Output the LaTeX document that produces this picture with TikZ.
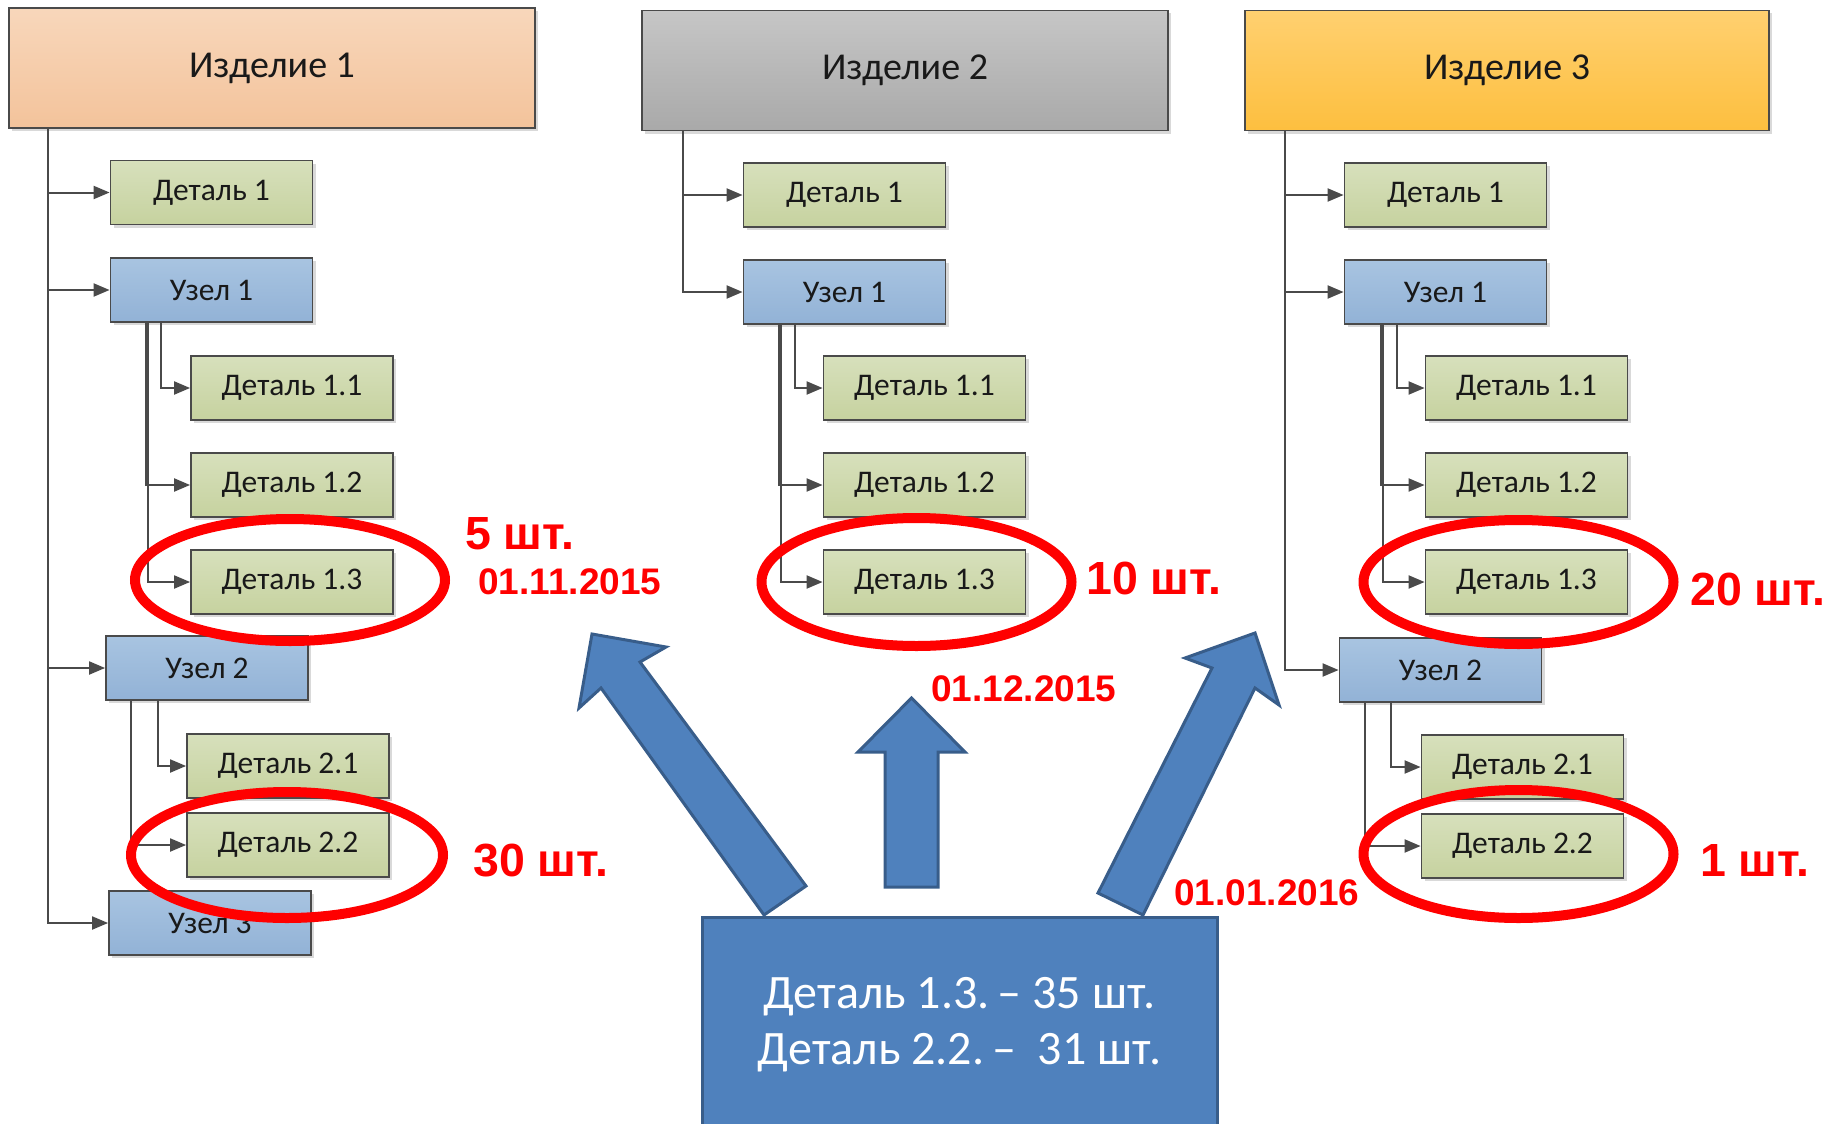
\documentclass[tikz,border=0pt]{standalone}
\usepackage{fontspec}
\setmainfont{Carlito}
\newfontfamily\arialbf{Liberation Sans}
\usetikzlibrary{arrows.meta,shadows}

\definecolor{partA}{HTML}{D7E0BC}
\definecolor{partB}{HTML}{C6D29F}
\definecolor{unitA}{HTML}{A8C4E1}
\definecolor{unitB}{HTML}{92B2D6}
\definecolor{prodA1}{HTML}{F8D7BB}
\definecolor{prodB1}{HTML}{F3C39B}
\definecolor{prodA2}{HTML}{C6C6C6}
\definecolor{prodB2}{HTML}{A9A9A9}
\definecolor{prodA3}{HTML}{FFD070}
\definecolor{prodB3}{HTML}{FDBF3F}
\definecolor{edge}{HTML}{4A4A4A}
\definecolor{blockfill}{HTML}{4F81BD}
\definecolor{blockedge}{HTML}{385D8A}

\begin{document}
\begin{tikzpicture}[x=1pt,y=-1pt,
    anybox/.style={draw=edge,line width=1.8pt,inner sep=0pt,minimum height=64pt,
      drop shadow={shadow xshift=3pt,shadow yshift=-3pt,fill=black,opacity=0.15},
      text=black!90,font=\fontsize{31.5}{36}\selectfont},
    partbox/.style={anybox,minimum width=202pt,top color=partA,bottom color=partB},
    unitbox/.style={anybox,minimum width=202pt,top color=unitA,bottom color=unitB},
    prodbox/.style={anybox,minimum width=526pt,minimum height=120pt,font=\fontsize{38}{42}\selectfont},
    conn/.style={draw=edge,line width=2pt,-{Triangle[length=16pt,width=13pt]}},
    ring/.style={draw=red,line width=10pt},
    qty/.style={text=red,anchor=base west,inner sep=0pt,font=\arialbf\bfseries\fontsize{46.5}{50}\selectfont},
    datetxt/.style={qty,font=\arialbf\bfseries\fontsize{37}{40}\selectfont},
    blockarrow/.style={fill=blockfill,draw=blockedge,line width=3pt,line join=miter}]
  \useasboundingbox (0,0) rectangle (1831,1124);

  % product 1
  \node[prodbox,top color=prodA1,bottom color=prodB1] (Ia) at (272,68) {Изделие 1};
  \node[partbox] (Da1) at (211.5,192.5) {Деталь 1};
  \node[unitbox] (Ua1) at (211.5,290) {Узел 1};
  \node[partbox] (Da11) at (292,388) {Деталь 1.1};
  \node[partbox] (Da12) at (292,485) {Деталь 1.2};
  \node[partbox] (Da13) at (292,582) {Деталь 1.3};
  \node[unitbox] (Ua2) at (207,668) {Узел 2};
  \node[partbox] (Da21) at (288,766) {Деталь 2.1};
  \node[partbox] (Da22) at (288,845) {Деталь 2.2};
  \node[unitbox] (Ua3) at (210,923) {Узел 3};
  \draw[conn] ([xshift=40pt]Ia.south west) |- (Da1);
  \draw[conn] ([xshift=40pt]Ia.south west) |- (Ua1);
  \draw[conn] ([xshift=40pt]Ia.south west) |- (Ua2);
  \draw[conn] ([xshift=40pt]Ia.south west) |- (Ua3);
  \draw[conn] ([xshift=51pt]Ua1.south west) |- (Da11);
  \draw[conn] ([xshift=36pt]Ua1.south west) |- (Da12);
  \draw[conn] ([xshift=38pt]Ua1.south west) |- (Da13);
  \draw[conn] ([xshift=53pt]Ua2.south west) |- (Da21);
  \draw[conn] ([xshift=26pt]Ua2.south west) |- (Da22);

  % product 2
  \node[prodbox,top color=prodA2,bottom color=prodB2] (Ib) at (905,70.5) {Изделие 2};
  \node[partbox] (Db1) at (844.5,195) {Деталь 1};
  \node[unitbox] (Ub1) at (844.5,292) {Узел 1};
  \node[partbox] (Db11) at (924.5,388) {Деталь 1.1};
  \node[partbox] (Db12) at (924.5,485) {Деталь 1.2};
  \node[partbox] (Db13) at (924.5,582) {Деталь 1.3};
  \draw[conn] ([xshift=42pt]Ib.south west) |- (Db1);
  \draw[conn] ([xshift=42pt]Ib.south west) |- (Ub1);
  \draw[conn] ([xshift=52pt]Ub1.south west) |- (Db11);
  \draw[conn] ([xshift=36pt]Ub1.south west) |- (Db12);
  \draw[conn] ([xshift=38pt]Ub1.south west) |- (Db13);

  % product 3
  \node[prodbox,top color=prodA3,bottom color=prodB3,minimum width=524pt] (Ic) at (1507,70.5) {Изделие 3};
  \node[partbox] (Dc1) at (1445.5,195) {Деталь 1};
  \node[unitbox] (Uc1) at (1445.5,292) {Узел 1};
  \node[partbox] (Dc11) at (1526.5,388) {Деталь 1.1};
  \node[partbox] (Dc12) at (1526.5,485) {Деталь 1.2};
  \node[partbox] (Dc13) at (1526.5,582) {Деталь 1.3};
  \node[unitbox] (Uc2) at (1440.5,670) {Узел 2};
  \node[partbox] (Dc21) at (1522.5,767) {Деталь 2.1};
  \node[partbox] (Dc22) at (1522.5,846) {Деталь 2.2};
  \draw[conn] ([xshift=41pt]Ic.south west) |- (Dc1);
  \draw[conn] ([xshift=41pt]Ic.south west) |- (Uc1);
  \draw[conn] ([xshift=41pt]Ic.south west) |- (Uc2);
  \draw[conn] ([xshift=53pt]Uc1.south west) |- (Dc11);
  \draw[conn] ([xshift=37pt]Uc1.south west) |- (Dc12);
  \draw[conn] ([xshift=39pt]Uc1.south west) |- (Dc13);
  \draw[conn] ([xshift=52pt]Uc2.south west) |- (Dc21);
  \draw[conn] ([xshift=26pt]Uc2.south west) |- (Dc22);

  % block arrows and the total
  \draw[blockarrow] (592,634) -- (666,647) -- (640,662) -- (806,886) -- (764,915) -- (601,688) -- (579,708) -- cycle;
  \draw[blockarrow] (911.5,698) -- (965,752) -- (938,752) -- (938,887) -- (885,887) -- (885,752) -- (858,752) -- cycle;
  \draw[blockarrow] (1255,633) -- (1279,705) -- (1255,688) -- (1143,915) -- (1098,893) -- (1212,668) -- (1185,658) -- cycle;
  \node[draw=blockedge,fill=blockfill,line width=3pt,minimum width=515pt,minimum height=216pt,inner sep=0pt,
    text=white,align=center,font=\fontsize{48}{56}\selectfont] (sum) at (959.5,1025)
    {Деталь 1.3.\,– 35 шт.\\Деталь 2.2.\,–\ \ 31 шт.};

  \draw[ring] ([xshift=-2pt,yshift=2pt]Da13.center) ellipse [x radius=155pt,y radius=61pt];
  \draw[ring] ([xshift=-1pt,yshift=-10pt]Da22.center) ellipse [x radius=156pt,y radius=63pt];
  \draw[ring] ([xshift=-8pt]Db13.center) ellipse [x radius=155pt,y radius=64pt];
  \draw[ring] ([xshift=-8pt]Dc13.center) ellipse [x radius=155pt,y radius=62pt];
  \draw[ring] ([xshift=-4pt,yshift=-8pt]Dc22.center) ellipse [x radius=155pt,y radius=64pt];

  \node[qty] (qa13) at (465,549) {5 шт.};
  \node[datetxt] (ta) at (478,594) {01.11.2015};
  \node[qty] (qa22) at (473,876) {30 шт.};
  \node[qty] (qb13) at (1086,594) {10 шт.};
  \node[datetxt] (tb) at (931,701) {01.12.2015};
  \node[qty] (qc13) at (1690,605) {20 шт.};
  \node[qty] (qc22) at (1700,876) {1 шт.};
  \node[datetxt] (tc) at (1174,905) {01.01.2016};
\end{tikzpicture}
\end{document}
